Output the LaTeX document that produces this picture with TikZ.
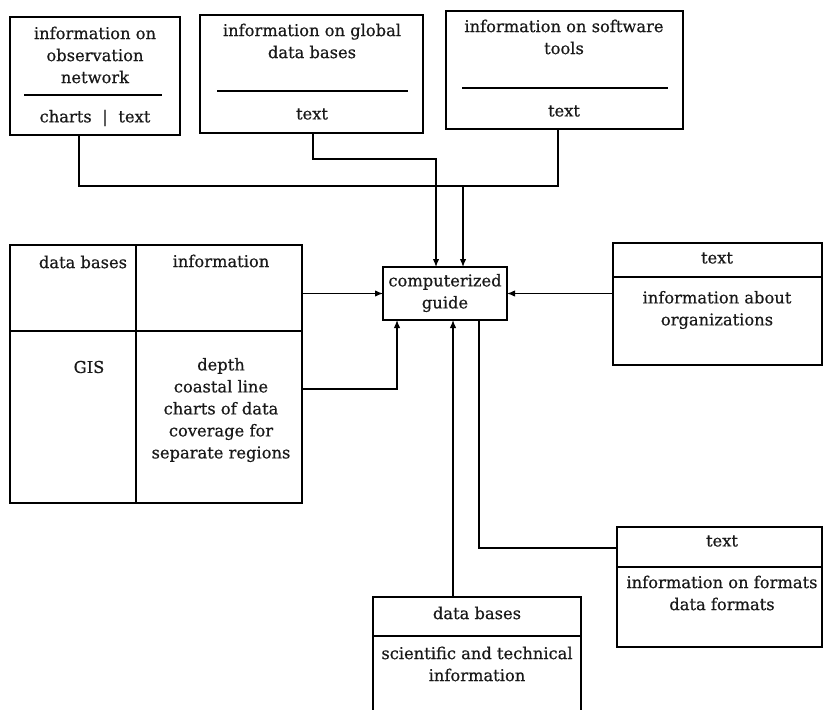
\documentclass[tikz,border=0pt]{standalone}
\usepackage{fontspec}
\newfontfamily\djs[FakeBold=0.5]{DejaVu Serif}
\usetikzlibrary{arrows.meta,calc}
\tikzset{
  box/.style={draw, line width=1.4pt, inner sep=0pt, outer sep=0pt, anchor=north west},
  lbl/.style={font=\djs\fontsize{16.3}{22}\selectfont, align=center, inner sep=0pt, text=black!90},
  rule/.style={line width=1.4pt},
  conn/.style={line width=1.3pt},
  arr/.style={conn, -{Latex[length=8pt,width=6.5pt]}}
}
\begin{document}
\begin{tikzpicture}[x=1pt,y=-1pt]
\useasboundingbox (0,0) rectangle (824,709);
\fill[white] (0,0) rectangle (824,709);
\clip (0,0) rectangle (824,709);

% boxes
\node[box, minimum width=170pt, minimum height=118pt] (obs) at (10,17) {};
\node[box, minimum width=223pt, minimum height=118pt] (glob) at (200,15) {};
\node[box, minimum width=237pt, minimum height=118pt] (soft) at (446,11) {};
\node[box, minimum width=124pt, minimum height=53pt] (guide) at (383,267) {};
\node[box, minimum width=292pt, minimum height=258pt] (left) at (10,245) {};
\node[box, minimum width=209pt, minimum height=122pt] (org) at (613,243) {};
\node[box, minimum width=205pt, minimum height=120pt] (fmt) at (617,527) {};
\node[box, minimum width=208pt, minimum height=130pt] (db) at (373,597) {};

% inner rules
\draw[rule] (24,95) -- (162,95);
\draw[rule] (217,91) -- (408,91);
\draw[rule] (462,88) -- (668,88);
\draw[rule] (136,245) -- (136,503);
\draw[rule] (10,331) -- (302,331);
\draw[rule] (613,277) -- (822,277);
\draw[rule] (617,567) -- (822,567);
\draw[rule] (373,636) -- (581,636);

% texts
\node[lbl] (tobs) at (95,55) {information on\\observation\\network};
\node[lbl] (tobs2) at (95,118) {charts \,\,|\,\, text};
\node[lbl] (tglob) at (312,41) {information on global\\data bases};
\node[lbl] (tglob2) at (312,114) {text};
\node[lbl] (tsoft) at (564,37) {information on software\\tools};
\node[lbl] (tsoft2) at (564,111) {text};
\node[lbl] (tguide) at (445,293) {computerized\\guide};
\node[lbl] (tdb1) at (83,262) {data bases};
\node[lbl] (tinf) at (221,261) {information};
\node[lbl] (tgis) at (89,367) {GIS};
\node[lbl] (tdepth) at (221,410) {depth\\coastal line\\charts of data\\coverage for\\separate regions};
\node[lbl] (torg1) at (717,258) {text};
\node[lbl] (torg2) at (717,310) {information about\\organizations};
\node[lbl] (tfmt1) at (722,541) {text};
\node[lbl] (tfmt2) at (722,593) {information on formats\\data formats};
\node[lbl] (tdb2) at (477,613) {data bases};
\node[lbl] (tdb3) at (477,664) {scientific and technical\\information};

% connectors
\coordinate (j1) at (463,186);
\draw[conn] ($(obs.south west)+(69,0)$) |- (j1) -| ($(soft.south west)+(112,0)$);
\draw[arr] (j1) -- (j1 |- guide.north);
\draw[arr] ($(glob.south west)+(113,0)$) |- (436,159) -- ($(guide.north west)+(53,0)$);
\draw[arr] (guide.west -| left.east) -- (guide.west);
\draw[arr] (left.east |- 0,389) -| ($(guide.south west)+(14,0)$);
\draw[arr] (guide.east -| org.west) -- (guide.east);
\draw[arr] ($(db.north west)+(80,0)$) -- ($(guide.south west)+(70,0)$);
\draw[conn] (fmt.west |- 0,548) -| ($(guide.south west)+(96,0)$);
\end{tikzpicture}
\end{document}
